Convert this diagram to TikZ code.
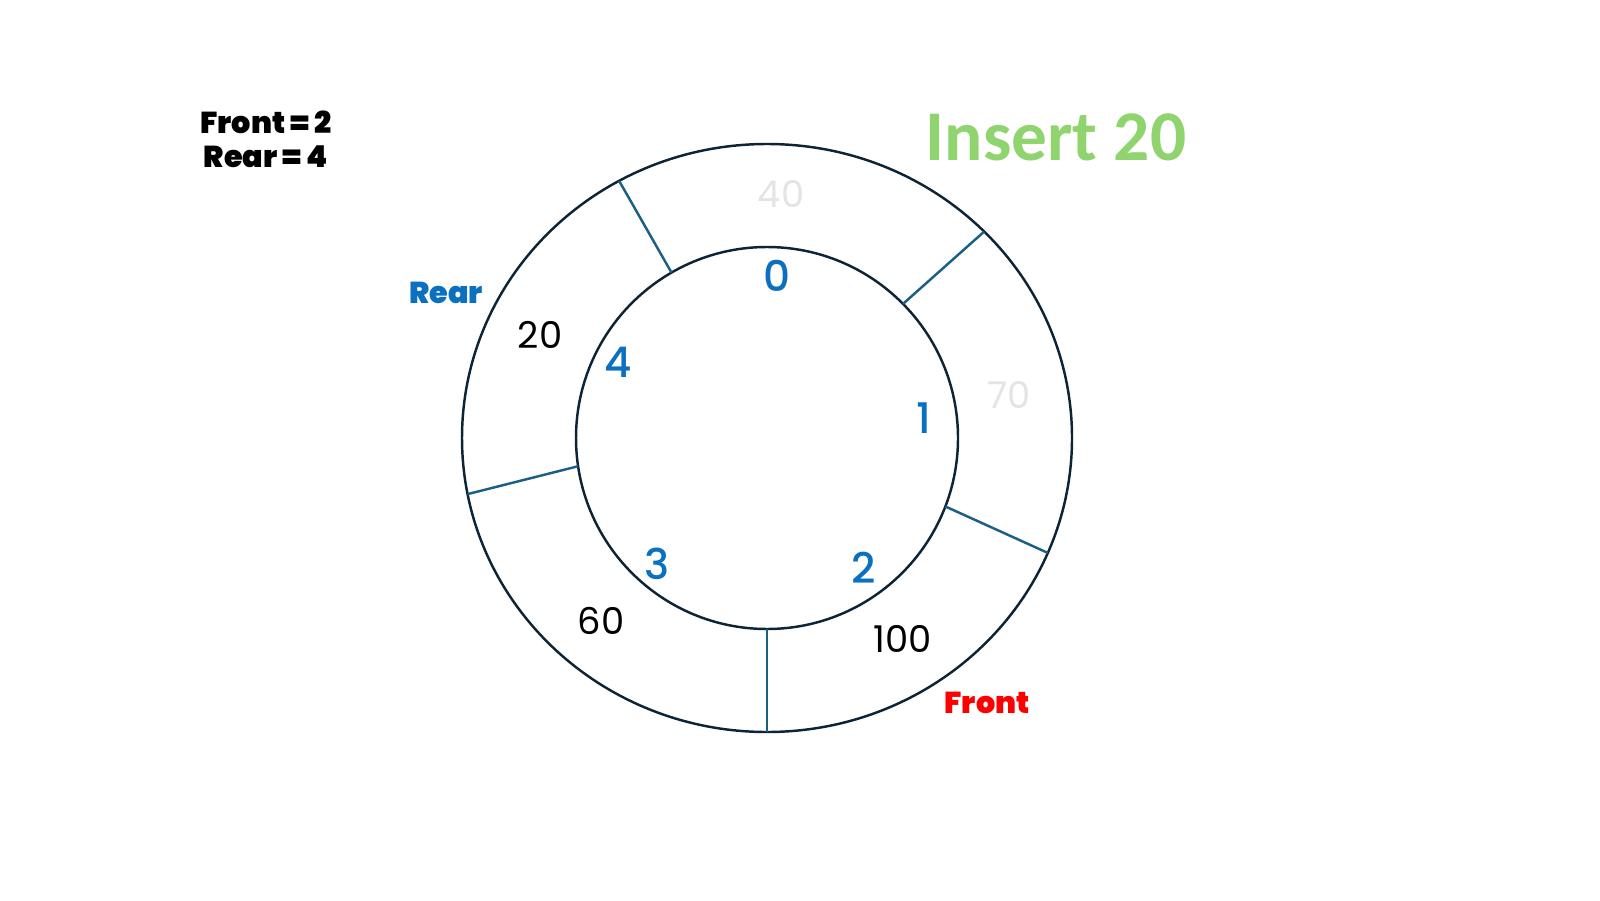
\documentclass[tikz,border=0pt]{standalone}
\usepackage{fontspec}
\setmainfont{Poppins}
\newfontfamily\titlefont{Carlito}
\newfontfamily\idxfont{Poppins Medium}
\newfontfamily\tagfont{Poppins Black}
\usepackage{tikz}
\usetikzlibrary{
    arrows.meta,
    positioning,
    calc
}
\usepackage{xcolor}
\definecolor{ringline}{HTML}{0D2436}
\definecolor{slotline}{HTML}{1C5F85}
\definecolor{idxblue}{HTML}{0B70C0}
\definecolor{oldgrey}{HTML}{E4E4E4}
\definecolor{insgreen}{HTML}{8FD46E}
\definecolor{frontred}{HTML}{FF0000}

\begin{document}
\begin{tikzpicture}[
        ring/.style={
            draw=ringline,
            line width=0.7pt
        },
        slot/.style={
            draw=slotline,
            line width=0.7pt
        },
        idx/.style={
            text=idxblue,
            font=\idxfont\fontsize{12}{14}\selectfont,
            inner sep=0pt
        },
        val/.style={
            text=black,
            font=\fontsize{10.5}{12}\selectfont,
            inner sep=0pt
        },
        oldval/.style={
            val,
            text=oldgrey
        },
        tag/.style={
            font=\tagfont\fontsize{8.6}{9.7}\selectfont,
            align=center,
            inner sep=0pt
        }
    ]

    \useasboundingbox (0,0) rectangle (16,9);

    \coordinate (cnt) at (7.67,4.62);
    \draw[ring] (cnt) circle (1.91);
    \draw[ring] (cnt) ellipse (3.05 and 2.94);

    \foreach \ai/\ao [count=\k] in {120/119,44.6/44.6,-21/-23,-90/-90,188.5/191} {
        \coordinate (in\k) at ($(cnt)+(\ai:1.91)$);
        \coordinate (out\k) at ($(cnt)+(\ao:3.05 and 2.94)$);
        \draw[slot] (in\k) -- (out\k);
    }

    \node[idx] (i0) at (7.77,6.24) {0};
    \node[idx] (i1) at (9.24,4.82) {1};
    \node[idx] (i2) at (8.64,3.32) {2};
    \node[idx] (i3) at (6.57,3.36) {3};
    \node[idx] (i4) at (6.18,5.38) {4};

    \node[oldval] (v0) at (7.81,7.06) {40};
    \node[oldval] (v1) at (10.09,5.05) {70};
    \node[val] (v2) at (9.03,2.61) {100};
    \node[val] (v3) at (6.01,2.79) {60};
    \node[val] (v4) at (5.40,5.65) {20};

    \node[tag, text=idxblue] (rear) at (4.46,6.07) {Rear};
    \node[tag, text=frontred] (front) at (9.87,1.97) {Front};

    \node[tag] (state) at (2.66,7.61) {
        Front = 2\\
        Rear = 4
    };

    \node[text=insgreen, inner sep=0pt,
        font=\titlefont\bfseries\fontsize{20.3}{24}\selectfont] (title) at (10.56,7.63) {Insert 20};

\end{tikzpicture}
\end{document}
